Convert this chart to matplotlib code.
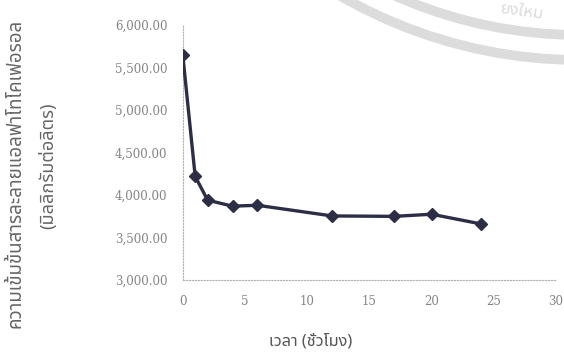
import numpy as np
import matplotlib
matplotlib.use('Agg')
from matplotlib import pyplot as plt
from matplotlib.ticker import FuncFormatter
from matplotlib.patches import Circle

# ข้อมูล
hours = [0, 1, 2, 4, 6, 12, 17, 20, 24]
conc = [5650, 4220, 3940, 3870, 3880, 3755, 3750, 3775, 3660]

ylabel1 = 'ความเข้มข้นสารละลายแอลฟาโทโคเฟอรอล'
ylabel2 = '(มิลลิกรัมต่อลิตร)'
xlabel = 'เวลา (ชั่วโมง)'

thai = ['Noto Sans Thai', 'Loma', 'Garuda', 'Norasi', 'Tlwg Typo', 'Noto Serif Thai', 'DejaVu Sans']

fig = plt.figure(figsize=(5.64, 3.56), dpi=100)

# ลายน้ำ (โลโก้) ในพิกัดพิกเซล
bg = fig.add_axes([0, 0, 1, 1], zorder=0)
bg.set_xlim(0, 564)
bg.set_ylim(356, 0)
bg.axis('off')
for r in [480, 455]:
    bg.add_patch(Circle((580, -420), r, fill=False, ec='#dcdcdc', lw=7))
bg.text(522, 12, 'ยงใหม', rotation=-8, ha='center', va='center', fontsize=12,
        fontweight='bold', color='#dcdcdc', family=thai)

ax = fig.add_axes([0.324, 0.213, 0.662, 0.717], zorder=1)
ax.patch.set_alpha(0)

ax.plot(hours, conc, color='#2b2e45', lw=2.4, marker='D', ms=6, zorder=3)

ax.set_xlim(0, 30)
ax.set_ylim(3000, 6000)
ax.set_xticks([0, 5, 10, 15, 20, 25, 30])
ax.set_yticks([3000, 3500, 4000, 4500, 5000, 5500, 6000])
ax.yaxis.set_major_formatter(FuncFormatter(lambda v, p: '{:,.2f}'.format(v)))

for s in ['top', 'right']:
    ax.spines[s].set_visible(False)
for s in ['left', 'bottom']:
    ax.spines[s].set_color('#b0b0b0')
    ax.spines[s].set_linestyle(':')
    ax.spines[s].set_linewidth(0.8)
ax.tick_params(length=0, labelsize=8.5, labelcolor='#858585', pad=11)
for t in ax.get_xticklabels() + ax.get_yticklabels():
    t.set_family('DejaVu Serif')

fig.text(0.027, 0.512, ylabel1, rotation=90, ha='center', va='center', fontsize=13.5,
         color='#666666', family=thai)
fig.text(0.085, 0.535, ylabel2, rotation=90, ha='center', va='center', fontsize=13,
         color='#666666', family=thai)
fig.text(0.551, 0.04, xlabel, ha='center', va='center', fontsize=11.7,
         color='#555555', family=thai)

plt.savefig('out.png', dpi=100)
